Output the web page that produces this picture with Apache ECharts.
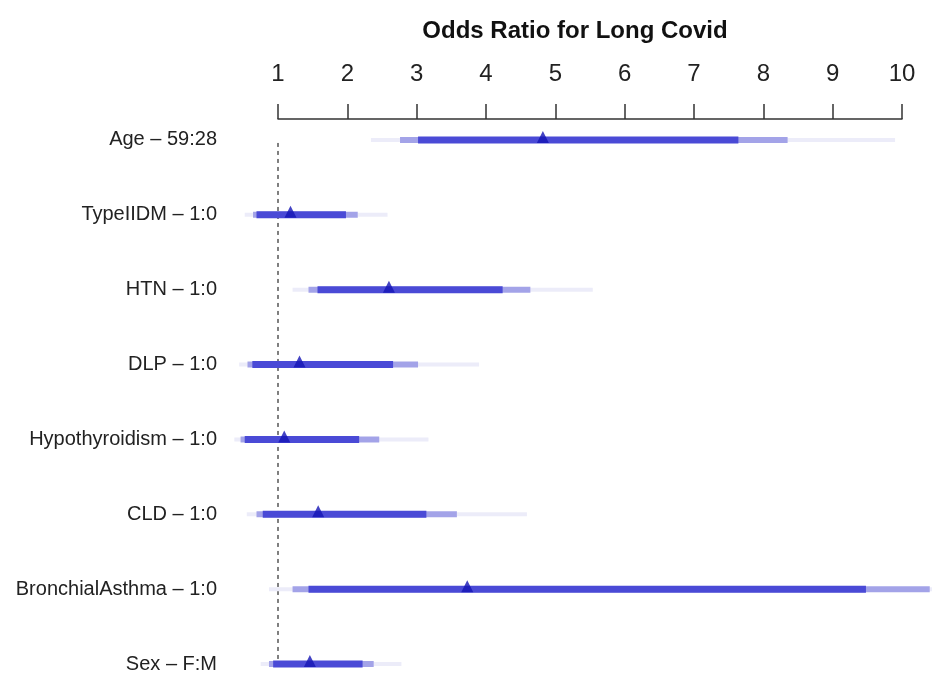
<!DOCTYPE html>
<html lang="en">
<head>
    <meta charset="UTF-8">
    <title>Odds Ratio for Long Covid</title>
    <style>
        html, body { margin: 0; padding: 0; background: #fff; }
        #chart { width: 932px; height: 679px; }
    </style>
</head>
<body>
<div id="chart"></div>
<script src="https://cdn.jsdelivr.net/npm/echarts@6/dist/echarts.min.js"></script>
<script type="text/javascript">
    // factors, top to bottom
    var factors = ['Age - 59:28', 'TypeIIDM - 1:0', 'HTN - 1:0', 'DLP - 1:0',
        'Hypothyroidism - 1:0', 'CLD - 1:0', 'BronchialAsthma - 1:0', 'Sex - F:M'];
    var xTicks = [1, 2, 3, 4, 5, 6, 7, 8, 9, 10];
    // point estimates
    var oddsRatio = [4.82, 1.18, 2.60, 1.31, 1.09, 1.58, 3.73, 1.46];
    // widest (lightest) interval
    var outerLow = [2.34, 0.52, 1.21, 0.44, 0.37, 0.55, 0.87, 0.75];
    var outerHigh = [9.90, 2.58, 5.54, 3.90, 3.17, 4.59, 11.5, 2.78];
    // middle interval
    var midLow = [2.76, 0.64, 1.44, 0.56, 0.46, 0.69, 1.21, 0.87];
    var midHigh = [8.35, 2.15, 4.64, 3.02, 2.46, 3.58, 10.4, 2.38];
    // narrowest (darkest) interval
    var innerLow = [3.02, 0.69, 1.57, 0.63, 0.52, 0.78, 1.44, 0.93];
    var innerHigh = [7.64, 1.98, 4.24, 2.66, 2.17, 3.14, 9.48, 2.22];

    var font = "'Liberation Sans', Arial, Helvetica, sans-serif";

    var barRows = factors.map(function (f, i) {
        return [i, outerLow[i], outerHigh[i], midLow[i], midHigh[i], innerLow[i], innerHigh[i]];
    });
    var points = factors.map(function (f, i) {
        return [oddsRatio[i], i];
    });

    var layers = [
        [1, 2, 4, '#ececf9'],
        [3, 4, 6, '#a3a3e8'],
        [5, 6, 7, '#4a4ad6']
    ];

    var mychart = echarts.init(document.getElementById('chart'));
    var option = {
        animation: false,
        title: {
            text: 'Odds Ratio for Long Covid',
            left: 570,
            top: 14,
            textAlign: 'center',
            textStyle: { fontFamily: font, fontSize: 24, fontWeight: 'bold', color: '#111' }
        },
        grid: { left: 278, right: 30, top: 119, bottom: 0 },
        xAxis: {
            type: 'value',
            position: 'top',
            min: 1,
            max: 10,
            interval: 1,
            axisLine: { show: true, onZero: false, lineStyle: { color: '#333', width: 1.5 } },
            axisTick: { show: true, length: 15, lineStyle: { color: '#333', width: 1.5 } },
            axisLabel: {
                margin: 33,
                fontFamily: font,
                fontSize: 24,
                color: '#222',
                customValues: xTicks
            },
            splitLine: { show: false }
        },
        yAxis: {
            type: 'value',
            inverse: true,
            min: -0.28,
            max: 7.2,
            axisLine: { show: false },
            axisTick: { show: false },
            splitLine: { show: false },
            axisLabel: {
                margin: 61,
                fontFamily: font,
                fontSize: 20,
                color: '#222',
                customValues: [0, 1, 2, 3, 4, 5, 6, 7],
                formatter: function (v) {
                    return factors[Math.round(v)].replace(' - ', ' \u2013 ');
                }
            }
        },
        series: [
            {
                type: 'line',
                data: [[1, 0.04], [1, 7.05]],
                symbol: 'none',
                lineStyle: { color: '#555', width: 1.5, type: [4, 4] },
                z: 1
            },
            {
                type: 'custom',
                clip: false,
                data: barRows,
                encode: { x: [1, 2, 3, 4, 5, 6], y: 0 },
                renderItem: function (params, api) {
                    var row = api.value(0);
                    var children = layers.map(function (l) {
                        var p0 = api.coord([api.value(l[0]), row]);
                        var p1 = api.coord([api.value(l[1]), row]);
                        return {
                            type: 'rect',
                            shape: { x: p0[0], y: p0[1] - l[2] / 2, width: p1[0] - p0[0], height: l[2] },
                            style: { fill: l[3] }
                        };
                    });
                    return { type: 'group', children: children };
                },
                z: 2
            },
            {
                type: 'scatter',
                data: points,
                symbol: 'triangle',
                symbolSize: [12, 12],
                symbolOffset: [0, -3],
                itemStyle: { color: '#1414b4' },
                z: 3
            }
        ]
    };
    mychart.setOption(option);
</script>
</body>
</html>
